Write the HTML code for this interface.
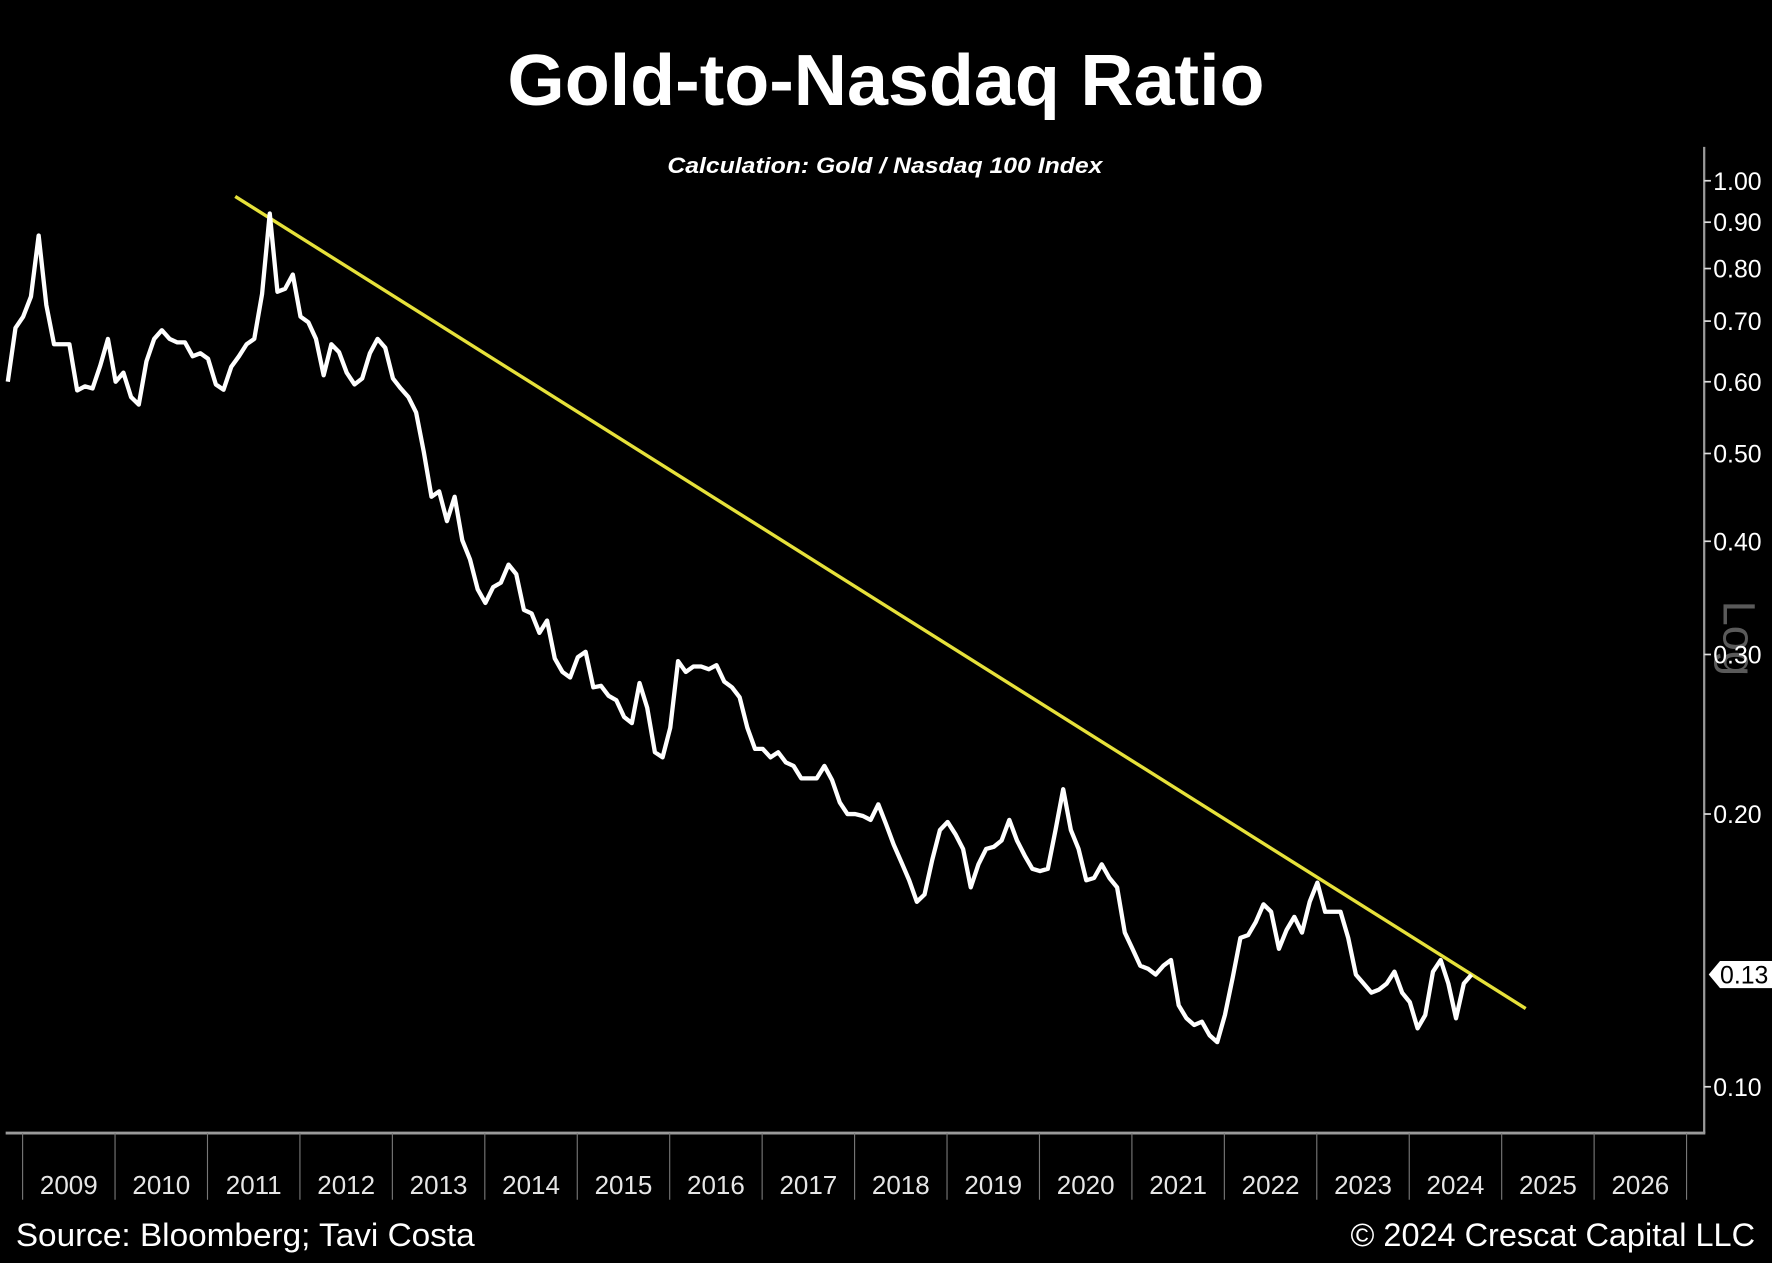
<!DOCTYPE html>
<html><head><meta charset="utf-8"><style>
html,body{margin:0;padding:0;background:#000;}
svg{display:block;}
</style></head><body>
<svg id="chart" width="1772" height="1263" viewBox="0 0 1568 1118" preserveAspectRatio="none" xmlns="http://www.w3.org/2000/svg">
<rect x="0" y="0" width="1568" height="1118" fill="#000"/>
<text x="784" y="93" text-anchor="middle" fill="#fff" font-family="Liberation Sans, sans-serif" font-weight="bold" font-size="64" textLength="670" lengthAdjust="spacingAndGlyphs">Gold-to-Nasdaq Ratio</text>
<text x="783" y="153" text-anchor="middle" fill="#fff" font-family="Liberation Sans, sans-serif" font-weight="bold" font-style="italic" font-size="20" textLength="385" lengthAdjust="spacingAndGlyphs">Calculation: Gold / Nasdaq 100 Index</text>
<text transform="translate(1525,565) rotate(90)" fill="#5a5a5a" font-family="Liberation Sans, sans-serif" font-size="40" text-anchor="middle">Log</text>
<g id="yaxis"></g>
<g id="xaxis"></g>
<g id="plot"></g>
<text x="14" y="1103" fill="#fff" font-family="Liberation Sans, sans-serif" font-size="29" textLength="406" lengthAdjust="spacingAndGlyphs">Source: Bloomberg; Tavi Costa</text>
<text x="1553" y="1103" text-anchor="end" fill="#fff" font-family="Liberation Sans, sans-serif" font-size="29" textLength="358" lengthAdjust="spacingAndGlyphs">© 2024 Crescat Capital LLC</text>
</svg>
<script>
const yTicks = [1.0, 0.9, 0.8, 0.7, 0.6, 0.5, 0.4, 0.3, 0.2, 0.1];
const yTickLabels = ["1.00","0.90","0.80","0.70","0.60","0.50","0.40","0.30","0.20","0.10"];
const years = [2009,2010,2011,2012,2013,2014,2015,2016,2017,2018,2019,2020,2021,2022,2023,2024,2025,2026];
const seriesStart = 2008.84;
const seriesStep = 1/12;
const ratio = [0.60,0.688,0.708,0.745,0.87,0.729,0.66,0.66,0.66,0.587,0.593,0.59,0.625,0.669,0.60,0.614,0.577,0.566,0.632,0.669,
0.684,0.669,0.663,0.663,0.64,0.645,0.636,0.596,0.588,0.623,0.64,0.66,0.669,0.75,0.92,0.754,0.76,0.788,0.708,0.698,
0.669,0.61,0.66,0.647,0.614,0.596,0.605,0.645,0.669,0.654,0.605,0.59,0.577,0.555,0.502,0.448,0.454,0.421,0.448,0.401,
0.382,0.354,0.342,0.356,0.36,0.377,0.368,0.336,0.333,0.317,0.327,0.297,0.287,0.283,0.298,0.302,0.276,0.277,0.27,0.267,
0.256,0.252,0.279,0.262,0.234,0.231,0.249,0.295,0.287,0.291,0.291,0.289,0.292,0.28,0.276,0.269,0.249,0.236,0.236,0.231,
0.234,0.228,0.226,0.219,0.219,0.219,0.226,0.218,0.206,0.20,0.20,0.199,0.197,0.205,0.195,0.185,0.177,0.169,0.16,0.163,
0.178,0.192,0.196,0.19,0.183,0.166,0.176,0.183,0.184,0.187,0.197,0.187,0.18,0.174,0.173,0.174,0.192,0.213,0.192,0.183,
0.169,0.17,0.176,0.17,0.166,0.148,0.142,0.136,0.135,0.133,0.136,0.138,0.123,0.119,0.117,0.118,0.114,0.112,0.12,0.132,
0.146,0.147,0.152,0.159,0.156,0.142,0.149,0.154,0.148,0.16,0.168,0.156,0.156,0.156,0.146,0.133,0.13,0.127,0.128,0.13,
0.134,0.127,0.124,0.116,0.12,0.134,0.138,0.13,0.119,0.13,0.133];
const trendDates = [2011.30, 2025.26];
const trendValues = [0.961, 0.122];
const lastValueLabel = "0.13";

const NS = "http://www.w3.org/2000/svg";
function xScale(t){ return 20 + (t - 2009) * 81.8; }
function yScale(v){ return 160 - Math.log10(v) * 802; }
function mk(tag, attrs, parent){ const e = document.createElementNS(NS, tag); for (const k in attrs) e.setAttribute(k, attrs[k]); parent.appendChild(e); return e; }

const yaxis = document.getElementById('yaxis');
const xaxis = document.getElementById('xaxis');
const plot = document.getElementById('plot');

const yl = mk('line', {x1:1508, y1:130, x2:1508, y2:1003, stroke:'#9a9a9a', 'stroke-width':2}, yaxis);


const xl = mk('line', {x1:5, y1:1003, x2:1509, y2:1003, stroke:'#9a9a9a', 'stroke-width':2.5}, xaxis);



yTicks.forEach((v, i) => {
  const y = yScale(v);
  const t = mk('line', {x1:1508, y1:y, x2:1514, y2:y, stroke:'#ddd', 'stroke-width':1.5}, yaxis);
  
  
  const lb = mk('text', {x:1516, y:y+8, fill:'#fff', 'font-family':'Liberation Sans, sans-serif', 'font-size':22}, yaxis);
  lb.textContent = yTickLabels[i];
  
  
});

years.forEach((yr) => {
  const x = xScale(yr);
  const s = mk('line', {x1:x, y1:1003, x2:x, y2:1062, stroke:'#777', 'stroke-width':1}, xaxis);
  
  
  const lb = mk('text', {x:xScale(yr + 0.5), y:1057, fill:'#e6e6e6', 'text-anchor':'middle', 'font-family':'Liberation Sans Narrow, Liberation Sans, sans-serif', 'font-size':23}, xaxis);
  lb.textContent = String(yr);
  
  
});
const endSep = mk('line', {x1:xScale(2027), y1:1003, x2:xScale(2027), y2:1062, stroke:'#777', 'stroke-width':1}, xaxis);



const tl = mk('line', {x1:xScale(trendDates[0]), y1:yScale(trendValues[0]), x2:xScale(trendDates[1]), y2:yScale(trendValues[1]), stroke:'#e6e13a', 'stroke-width':3}, plot);



const pts = ratio.map((v, i) => xScale(seriesStart + i * seriesStep).toFixed(1) + ',' + yScale(v).toFixed(1));
const pl = mk('polyline', {points:pts.join(' '), fill:'none', stroke:'#fff', 'stroke-width':3.8, 'stroke-linejoin':'round'}, plot);



const lv = ratio[ratio.length - 1];
const ly = yScale(lv);
const tag = mk('polygon', {points:`1512,${ly} 1522,${ly-12} 1568,${ly-12} 1568,${ly+12} 1522,${ly+12}`, fill:'#fff'}, yaxis);


const tt = mk('text', {x:1522, y:ly+8, fill:'#000', 'font-family':'Liberation Sans, sans-serif', 'font-size':22}, yaxis);
tt.textContent = lastValueLabel;


</script>
</body></html>
